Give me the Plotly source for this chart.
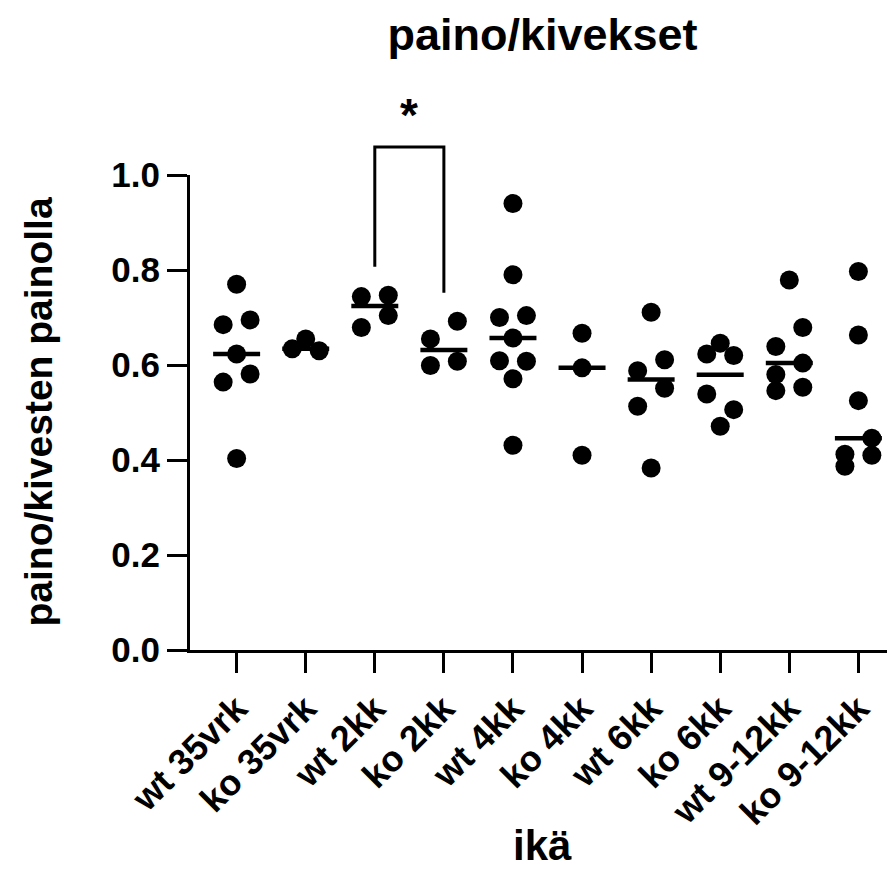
import plotly.graph_objects as go
import numpy as np

# ---------------- data ----------------
categories = ["wt 35vrk", "ko 35vrk", "wt 2kk", "ko 2kk", "wt 4kk",
              "ko 4kk", "wt 6kk", "ko 6kk", "wt 9-12kk", "ko 9-12kk"]

wt_35vrk = [0.770, 0.695, 0.685, 0.623, 0.581, 0.564, 0.403]
ko_35vrk = [0.655, 0.634, 0.630]
wt_2kk = [0.747, 0.744, 0.704, 0.679]
ko_2kk = [0.692, 0.655, 0.608, 0.599]
wt_4kk = [0.940, 0.790, 0.704, 0.700, 0.657, 0.609, 0.608, 0.571, 0.431]
ko_4kk = [0.667, 0.594, 0.410]
wt_6kk = [0.711, 0.611, 0.588, 0.551, 0.513, 0.383]
ko_6kk = [0.646, 0.623, 0.620, 0.539, 0.506, 0.471]
wt_9_12kk = [0.779, 0.679, 0.639, 0.604, 0.580, 0.553, 0.546]
ko_9_12kk = [0.797, 0.663, 0.525, 0.446, 0.412, 0.410, 0.387]

groups = [wt_35vrk, ko_35vrk, wt_2kk, ko_2kk, wt_4kk,
          ko_4kk, wt_6kk, ko_6kk, wt_9_12kk, ko_9_12kk]

y_ticks = [0.0, 0.2, 0.4, 0.6, 0.8, 1.0]
sig_pair = (2, 3)
sig_label = "*"

# ---------------- layout helpers ----------------
Y0, Y1 = 0.0, 1.0
X0, X1 = -0.675, 9.53
CHAIN = 0.042   # values closer than this would overlap vertically
STEP = 0.195    # horizontal spread step (category units)


def swarm(vals):
    order = sorted(range(len(vals)), key=lambda i: -vals[i])
    chains = []
    for i in order:
        if chains and vals[chains[-1][-1]] - vals[i] < CHAIN:
            chains[-1].append(i)
        else:
            chains.append([i])
    off = [0.0] * len(vals)
    for ch in chains:
        m = len(ch)
        if m == 1:
            continue
        if m % 2 == 0:
            signs = [1 if k % 2 == 0 else -1 for k in range(m)]
        else:
            g_first = vals[ch[0]] - vals[ch[1]]
            g_last = vals[ch[-2]] - vals[ch[-1]]
            rest = [-1 if k % 2 == 0 else 1 for k in range(m - 1)]
            signs = [0] + rest if g_first >= g_last else rest + [0]
        for idx, s in zip(ch, signs):
            off[idx] = s * STEP
    return off


fig = go.Figure()

px_, py_ = [], []
mx, my = [], []
for gi, vals in enumerate(groups):
    offs = swarm(vals)
    for v, o in zip(vals, offs):
        px_.append(gi + o)
        py_.append(v)
    med = float(np.median(vals))
    mx += [gi - 0.34, gi + 0.34, None]
    my += [med, med, None]

fig.add_trace(go.Scatter(x=mx, y=my, mode="lines",
                         line=dict(color="black", width=4.5),
                         hoverinfo="skip", showlegend=False))
fig.add_trace(go.Scatter(x=px_, y=py_, mode="markers",
                         marker=dict(color="black", size=19, line=dict(width=0)),
                         cliponaxis=False, showlegend=False))


def to_paper(v):
    return (v - Y0) / (Y1 - Y0)


a, b = sig_pair
top = 1.059
left_bottom = to_paper(max(groups[a]) + 0.06)
right_bottom = to_paper(max(groups[b]) + 0.06)
fig.add_shape(type="path", xref="x", yref="paper",
              path=f"M {a} {left_bottom} L {a} {top} L {b} {top} L {b} {right_bottom}",
              line=dict(color="black", width=3))

FONT = "Liberation Sans, Arial, Helvetica, sans-serif"

fig.add_annotation(x=(a + b) / 2, y=1.126, xref="x", yref="paper",
                   text=sig_label, showarrow=False,
                   font=dict(family=FONT, size=46, color="black", weight="bold"),
                   xanchor="center", yanchor="middle")

fig.add_annotation(x=(38 - 190) / 705, y=0.5, xref="paper", yref="paper",
                   text="paino/kivesten painolla", textangle=-90, showarrow=False,
                   font=dict(family=FONT, size=39, color="black", weight="bold"),
                   xanchor="center", yanchor="middle")

fig.add_annotation(x=0.5, y=(650 - 845) / 475, xref="paper", yref="paper",
                   text="ikä", showarrow=False,
                   font=dict(family=FONT, size=42, color="black", weight="bold"),
                   xanchor="center", yanchor="middle")

# the page body adds an 8px margin, so the figure is 8px smaller and shifted
fig.update_layout(
    width=887, height=867,
    margin=dict(l=182, r=0, t=167, b=225),
    plot_bgcolor="white", paper_bgcolor="white",
    title=dict(text="paino/kivekset", x=0.5, xref="paper",
               y=1 - 26 / 867, yref="container", xanchor="center", yanchor="middle",
               font=dict(family=FONT, size=45, color="black", weight="bold")),
    xaxis=dict(range=[X0, X1], tickmode="array",
               tickvals=list(range(len(categories))), ticktext=categories,
               tickangle=-45, showgrid=False, zeroline=False,
               showline=True, linecolor="black", linewidth=3,
               ticks="outside", ticklen=20, tickwidth=3, tickcolor="black",
               tickfont=dict(family=FONT, size=36, color="black", weight="bold")),
    yaxis=dict(range=[Y0, Y1], tickmode="array", tickvals=y_ticks,
               ticktext=[f"{t:.1f}" for t in y_ticks],
               showgrid=False, zeroline=False,
               showline=True, linecolor="black", linewidth=3,
               ticks="outside", ticklen=20, tickwidth=3, tickcolor="black",
               tickfont=dict(family=FONT, size=35, color="black", weight="bold")),
)

fig.write_html("out.html")
